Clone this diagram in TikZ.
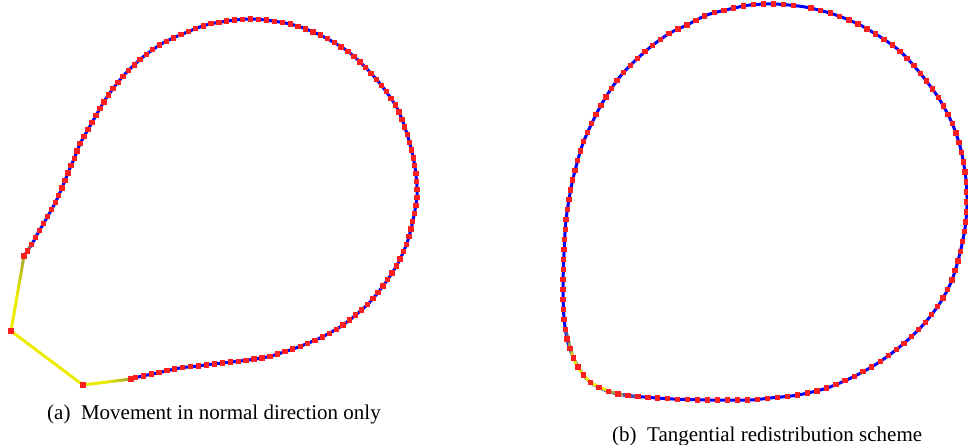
\documentclass[tikz,border=0pt]{standalone}
\usepackage{fontspec}
\setmainfont{Liberation Serif}
\usetikzlibrary{decorations.markings,calc}
\definecolor{cblue}{RGB}{0,0,255}
\definecolor{cyel}{RGB}{236,236,0}
\definecolor{cred}{RGB}{255,30,30}
\definecolor{colive}{RGB}{160,160,60}
\tikzset{
  curveline/.style={line width=3pt, draw=cblue, line join=round},
  yelline/.style={line width=3pt, draw=cyel, line cap=round, line join=round},
  redsquares/.style={postaction={decorate}, decoration={markings,
      mark=between positions 6pt and -4pt step #1 with {\pgftransformresetnontranslations
        \fill[cred] (-2.7pt,-2.7pt) rectangle (2.7pt,2.7pt);}}},
  sq/.pic={\fill[cred] (-2.7pt,-2.7pt) rectangle (2.7pt,2.7pt);},
  captext/.style={font=\fontsize{21}{25}\selectfont, anchor=base west, inner sep=0pt},
}
\begin{document}
\begin{tikzpicture}[x=1pt,y=-1pt]
\useasboundingbox (0,0) rectangle (968,444);
% ---------------- left curve
\coordinate (A) at (24,256);
\coordinate (B) at (11,331);
\coordinate (C) at (83,385);
\coordinate (D) at (131,379);
\def\leftpts{(24,256) (32,244) (38,233) (45,221) (53,207) (58,197) (64,183) (70,168) (74,159) (80,144) (86,133) (94,119) (105,100) (115,86) (126,73) (143,57) (163,43) (185,33) (210,24) (250,19) (290,24) (320,35) (350,53) (377,80) (397,108) (408,137) (415,167) (417,195) (413,220) (407,243) (397,265) (383,286) (367,305) (343,325) (320,338) (293,349) (267,357) (240,361) (213,364) (198,366) (180,368) (157,373) (138,377) (131,379)}
\draw[curveline] plot[smooth] coordinates {\leftpts};
\draw[yelline] (C) -- (B);
\foreach \i in {0,...,9}{
  \pgfmathsetmacro\p{min(100,(10-\i)*18)}
  \draw[line width=3pt, draw=cyel!\p!colive, line cap=round]
    ($(B)!\i/10!(A)$) -- ($(B)!\i/10+0.1!(A)$);
  \draw[line width=3pt, draw=cyel!\p!colive, line cap=round]
    ($(C)!\i/10!(D)$) -- ($(C)!\i/10+0.1!(D)$);
}
\draw[line width=3pt, draw=colive!80!cblue] (A) -- (30,247);
\draw[line width=3pt, draw=colive!60!cblue] (D) -- (137,377.5);
\path[redsquares=8pt] plot[smooth] coordinates {\leftpts};
\pic at (A) {sq};
\pic at (B) {sq};
\pic at (C) {sq};
\pic at (D) {sq};
% ---------------- right curve
\def\rightpts{(775,4) (805,7) (833,14) (860,25) (885,40) (902,53) (920,73) (938,97) (952,123) (961,150) (966,180) (967,205) (965,228) (960,253) (952,280) (940,303) (923,325) (902,345) (878,363) (853,377) (827,388) (798,395) (770,398) (750,400) (710,400) (673,399) (633,396) (610,392) (590,382) (577,365) (568,343) (564,318) (563,287) (564,253) (566,220) (571,188) (576,167) (582,146) (590,127) (600,107) (611,89) (623,73) (638,58) (653,45) (670,33) (687,25) (707,15) (730,9) (750,5)}
\draw[curveline] plot[smooth cycle] coordinates {\rightpts};
\draw[line width=3pt, draw=colive!50!cblue] (566,331) -- (569,343);
\draw[line width=3pt, draw=colive] (569,343) -- (572,354);
\draw[yelline] plot[smooth] coordinates {(572,354) (577,366) (583,374) (590,382) (599,387) (611,392)};
\draw[line width=3pt, draw=colive] (611,392) -- (623,395);
\draw[line width=3pt, draw=colive!50!cblue] (623,395) -- (635,397);
\path[redsquares=10pt] plot[smooth cycle] coordinates {\rightpts};
% ---------------- captions
\node[captext] (capa) at (47,419) {(a)\hspace{0.5em}Movement in normal direction only};
\node[captext] (capb) at (612,441) {(b)\hspace{0.5em}Tangential redistribution scheme};
\end{tikzpicture}
\end{document}
